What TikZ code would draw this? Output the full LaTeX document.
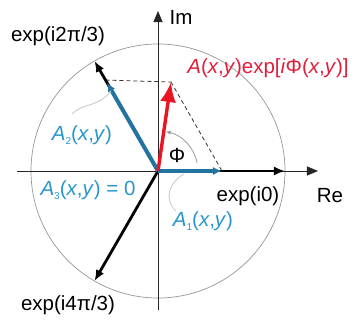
\documentclass[tikz,border=0pt]{standalone}
\usepackage{fontspec}
\setmainfont{Liberation Sans}
\usetikzlibrary{arrows.meta}
\definecolor{bluetxt}{RGB}{40,150,205}
\definecolor{bluearr}{RGB}{35,115,160}
\definecolor{redarr}{RGB}{235,20,35}
\definecolor{redtxt}{RGB}{225,30,60}
\definecolor{circgray}{RGB}{150,150,150}
\definecolor{callgray}{RGB}{195,205,210}
\newcommand{\mysubsc}[1]{\raisebox{-0.35ex}{\fontsize{10}{10}\selectfont #1}}
\tikzset{
  lbl/.style={font=\fontsize{20.5}{22}\selectfont, inner sep=0pt},
  axis/.style={draw=black!85, line width=0.8pt, -{Triangle[length=11pt,width=9pt]}},
  unitarr/.style={draw=black, line width=2.8pt, -{Latex[length=11pt,width=9pt]}},
  bluearrow/.style={draw=bluearr, line width=4pt, -{Latex[length=9pt,width=8pt,fill=bluetxt]}},
  redarrow/.style={draw=redarr, line width=3.4pt, -{Latex[length=20pt,width=16pt]}},
  dashln/.style={draw=black!80, line width=0.8pt, dash pattern=on 4pt off 3pt},
  callout/.style={draw=callgray, line width=0.9pt},
}
\begin{document}
\begin{tikzpicture}[x=1pt,y=1pt]
\useasboundingbox (-158,-151) rectangle (199,171);
\coordinate (O) at (0,0);
% circle
\draw[circgray, line width=0.7pt] (O) circle (127);
% axes
\coordinate (ReL) at (-141,0);
\coordinate (ReR) at (160,0);
\coordinate (ImB) at (0,-139);
\coordinate (ImT) at (0,160);
\draw[axis] (ReL) -- (ReR);
\draw[axis] (ImB) -- (ImT);
% key points
\coordinate (E0) at (0:127);
\coordinate (E1) at (120:127);
\coordinate (E2) at (240:127);
\coordinate (A1t) at (64,0);
\coordinate (A2t) at (120:102);
\coordinate (D2) at (120:105);
\coordinate (At) at (13,89);
% dashed parallelogram sides
\draw[dashln] (D2) -- (At);
\draw[dashln] (At) -- (A1t);
% unit vectors
\draw[unitarr] (O) -- (E0);
\draw[unitarr] (O) -- (E1);
\draw[unitarr] (O) -- (E2);
% blue components
\draw[bluearrow] (O) -- (A1t);
\draw[bluearrow] (O) -- (A2t);
% phase arc
\draw[black!40, line width=0.8pt, -{Latex[length=5pt,width=4pt]}] (12:40) arc[start angle=12, end angle=79, radius=40];
% red resultant
\draw[redarrow] (O) -- (At);
% callouts
\draw[callout] (-86,57) .. controls (-72,70) and (-62,62) .. (-47,80);
\draw[callout] (18,-40) .. controls (6,-30) and (10,-12) .. (26,-3);
% labels
\node[lbl] (Im) at (23,154) {Im};
\node[lbl] (Re) at (172,-25) {Re};
\node[lbl] (e1) at (-100,135) {exp(i2π/3)};
\node[lbl] (e0) at (90,-25) {exp(i0)};
\node[lbl] (e2) at (-90,-134) {exp(i4π/3)};
\node[lbl, text=redtxt] (res) at (110,103) {\textit{A}(\textit{x},\textit{y})exp[\textit{i}Φ(\textit{x},\textit{y})]};
\node[lbl, text=bluetxt] (a2) at (-76,36) {\textit{A}\mysubsc{2}(\textit{x},\textit{y})};
\node[lbl, text=bluetxt] (a3) at (-70,-19) {\textit{A}\mysubsc{3}(\textit{x},\textit{y}) = 0};
\node[lbl, text=bluetxt] (a1) at (45,-50) {\textit{A}\mysubsc{1}(\textit{x},\textit{y})};
\node[lbl] (phi) at (19,16) {Φ};
\end{tikzpicture}
\end{document}
